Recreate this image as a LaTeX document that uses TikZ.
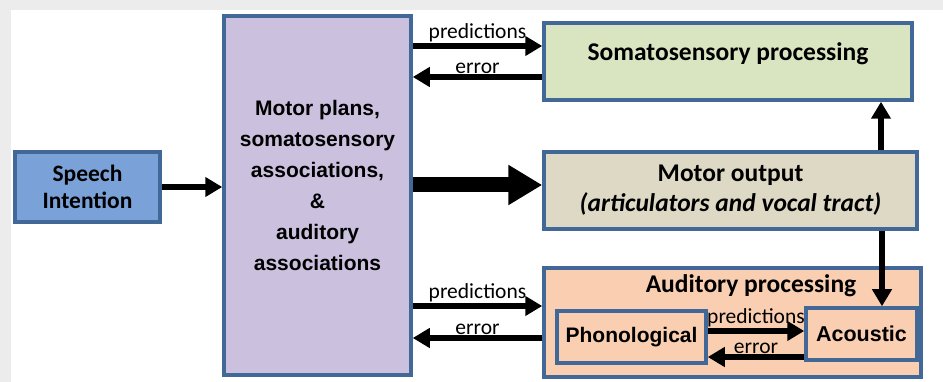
\documentclass[tikz,border=0pt]{standalone}
\usepackage{fontspec}
\setmainfont{Carlito}
\newfontfamily\arialfont{Liberation Sans}
\usetikzlibrary{arrows.meta,positioning}
\definecolor{edgeblue}{RGB}{66,104,152}
\definecolor{intentfill}{RGB}{122,162,216}
\definecolor{planfill}{RGB}{203,192,221}
\definecolor{somafill}{RGB}{217,229,193}
\definecolor{motorfill}{RGB}{221,217,196}
\definecolor{audfill}{RGB}{250,206,176}
\definecolor{framegray}{RGB}{236,236,236}
\tikzset{
  box/.style={draw=edgeblue, line width=3.5pt, inner sep=0pt, align=center, font=\fontsize{24}{28}\selectfont\bfseries},
  arr/.style={line width=5.5pt, -{Triangle[length=17pt,width=19pt]}},
  bigarr/.style={line width=15pt, -{Triangle[length=34pt,width=38pt]}},
  lbl/.style={font=\fontsize{21.5}{24}\selectfont, inner sep=1pt}
}
\begin{document}
\begin{tikzpicture}[x=1pt,y=-1pt]
  \fill[framegray] (0,0) rectangle (943,382);
  \fill[white] (11,10) rectangle (943,382);
  \useasboundingbox (0,0) rectangle (943,382);
  % boxes
  \node[box, fill=intentfill, minimum width=145pt, minimum height=70pt, font=\fontsize{23.5}{27}\selectfont\bfseries] (intent) at (87.5,187) {Speech\\Intention};
  \node[box, fill=planfill, minimum width=187pt, minimum height=359pt, text depth=20pt, font=\arialfont\fontsize{21}{31}\selectfont\bfseries] (plans) at (317.5,195.5)
    {Motor plans,\\somatosensory\\associations,\\\&\\auditory\\associations};
  \node[box, fill=somafill, minimum width=368pt, minimum height=77pt, text depth=20pt, font=\fontsize{25.5}{30}\selectfont\bfseries] (soma) at (728,61.5) {Somatosensory processing};
  \node[box, fill=motorfill, minimum width=373pt, minimum height=77pt, font=\fontsize{25.5}{30}\selectfont\bfseries] (motor) at (730.5,190.5)
    {Motor output\\\textit{(articulators and vocal tract)}};
  \node[box, fill=audfill, minimum width=377pt, minimum height=109pt] (aud) at (732.5,322.5) {};
  \node[font=\fontsize{25.5}{30}\selectfont\bfseries] (audtitle) at (751,286) {Auditory processing};
  \node[box, fill=audfill, minimum width=149pt, minimum height=52pt, font=\arialfont\fontsize{21}{24}\selectfont\bfseries] (phon) at (631.5,337) {Phonological};
  \node[box, fill=audfill, minimum width=111pt, minimum height=52pt, font=\arialfont\fontsize{21.5}{24}\selectfont\bfseries] (acou) at (861.5,334) {Acoustic};
  % connectors
  \draw[arr] (intent.east) -- (plans.west |- intent.east);
  \draw[bigarr] (plans.east |- 0,185) -- (motor.west |- 0,185);
  \draw[arr] (plans.east |- 0,46) -- node[lbl, above=0pt] (predtop) {predictions} (soma.west |- 0,46);
  \draw[arr] (soma.west |- 0,77) -- node[lbl, above=0pt] (errtop) {error} (plans.east |- 0,77);
  \draw[arr] (plans.east |- 0,306) -- node[lbl, above=0pt] (predbot) {predictions} (aud.west |- 0,306);
  \draw[arr] (aud.west |- 0,338) -- node[lbl, above=0pt] (errbot) {error} (plans.east |- 0,338);
  \draw[arr] (motor.north -| 881,0) -- (soma.south -| 881,0);
  \draw[arr] (motor.south -| 882,0) -- (acou.north -| 882,0);
  \draw[arr] (phon.east |- 0,331) -- node[lbl, above=0pt] (predin) {predictions} (acou.west |- 0,331);
  \draw[arr] (acou.west |- 0,357) -- node[lbl, above=0pt] (errin) {error} (phon.east |- 0,357);
\end{tikzpicture}
\end{document}
